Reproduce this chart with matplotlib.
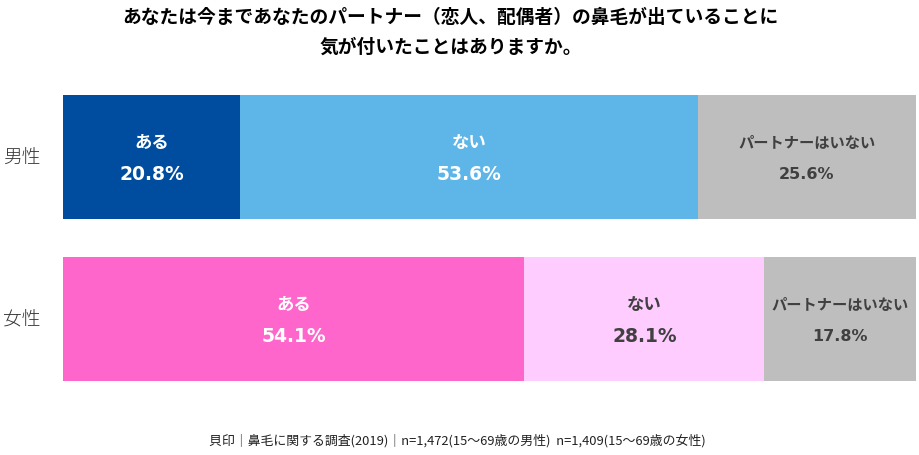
import matplotlib
matplotlib.use("Agg")
from matplotlib import pyplot as plt

plt.rcParams['font.family'] = ['Noto Sans CJK JP', 'DejaVu Sans']

# データ
groups = ['男性', '女性']
answers = ['ある', 'ない', 'パートナーはいない']
values = {
    '男性': [20.8, 53.6, 25.6],
    '女性': [54.1, 28.1, 17.8],
}
colors = {
    '男性': ['#004DA0', '#5DB5E8', '#BEBEBE'],
    '女性': ['#FF66CC', '#FFCCFF', '#BEBEBE'],
}
text_colors = {
    '男性': ['white', 'white', '#404040'],
    '女性': ['white', '#404040', '#404040'],
}
title = 'あなたは今まであなたのパートナー（恋人、配偶者）の鼻毛が出ていることに\n気が付いたことはありますか。'
note = '貝印｜鼻毛に関する調査(2019)｜n=1,472(15～69歳の男性)  n=1,409(15～69歳の女性)'

fig = plt.figure(figsize=(9.2, 4.56), dpi=100)
ax = fig.add_axes([63 / 920, 1 - 382 / 456, 853 / 920, 286 / 456])

h = 124 / 162
for i, g in enumerate(groups):
    left = 0
    for j, v in enumerate(values[g]):
        ax.barh(i, v, left=left, height=h, color=colors[g][j], edgecolor='none')
        small = (j == 2)
        ax.text(left + v / 2, i - 0.095, answers[j], ha='center', va='center',
                fontsize=11 if small else 12.5, fontweight='bold', color=text_colors[g][j])
        ax.text(left + v / 2, i + 0.1, '{:.1f}%'.format(v), ha='center', va='center',
                fontsize=11.5 if small else 13.5, fontweight='bold', color=text_colors[g][j],
                family='DejaVu Sans')
        left += v
    ax.text(-4.8, i, g, ha='center', va='center', fontsize=13.5, fontweight='light',
            color='#333333')

ax.set_xlim(0, 100)
ax.set_ylim(1 + h / 2, -h / 2)
ax.axis('off')

fig.text(0.49, 1 - 32 / 456, title, ha='center', va='center', fontsize=13.5,
         fontweight='bold', linespacing=1.75)
fig.text(0.497, 1 - 441 / 456, note, ha='center', va='center', fontsize=9.3, color='#222222')

fig.savefig('out.png', dpi=100)
